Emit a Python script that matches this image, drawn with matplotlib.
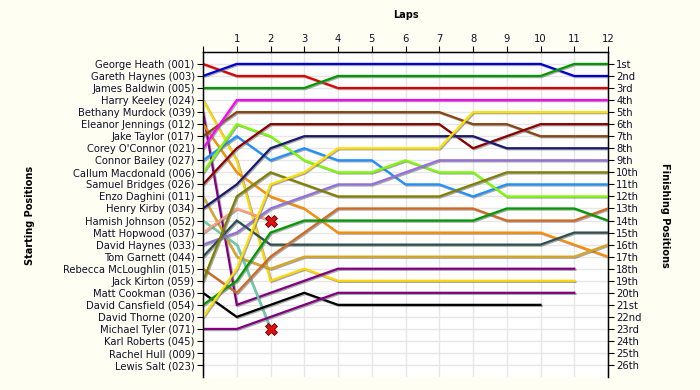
import matplotlib
matplotlib.use("Agg")
import matplotlib.pyplot as plt
import matplotlib.patheffects as pe

# starting grid order
names = ["George Heath (001)", "Gareth Haynes (003)", "James Baldwin (005)", "Harry Keeley (024)",
         "Bethany Murdock (039)", "Eleanor Jennings (012)", "Jake Taylor (017)", "Corey O'Connor (021)",
         "Connor Bailey (027)", "Callum Macdonald (006)", "Samuel Bridges (026)", "Enzo Daghini (011)",
         "Henry Kirby (034)", "Hamish Johnson (052)", "Matt Hopwood (037)", "David Haynes (033)",
         "Tom Garnett (044)", "Rebecca McLoughlin (015)", "Jack Kirton (059)", "Matt Cookman (036)",
         "David Cansfield (054)", "David Thorne (020)", "Michael Tyler (071)", "Karl Roberts (045)",
         "Rachel Hull (009)", "Lewis Salt (023)"]

colors = ["#E00000", "#0000D0", "#009A00", "#FFD700", "#800080", "#FF8C00", "#8B4513", "#FF00FF",
          "#1E90FF", "#7CFC00", "#8B0000", "#DAA520", "#191970", "#66CDAA", "#FFA07A", "#9370DB",
          "#2F4F4F", "#D2691E", "#808000", "#000000", "#009A00", "#FFE000", "#800080", None, None, None]

# position at lap 0..n (shorter list = lapped / retired)
positions = [
    [1, 2, 2, 2, 3, 3, 3, 3, 3, 3, 3, 3, 3],
    [2, 1, 1, 1, 1, 1, 1, 1, 1, 1, 1, 2, 2],
    [3, 3, 3, 3, 2, 2, 2, 2, 2, 2, 2, 1, 1],
    [4, 9, 19, 18, 19, 19, 19, 19, 19, 19, 19, 19],
    [5, 21, 20, 19, 18, 18, 18, 18, 18, 18, 18, 18],
    [6, 10, 12, 13, 15, 15, 15, 15, 15, 15, 15, 16, 17],
    [7, 5, 5, 5, 5, 5, 5, 5, 6, 6, 7, 7, 7],
    [8, 4, 4, 4, 4, 4, 4, 4, 4, 4, 4, 4, 4],
    [9, 7, 9, 8, 9, 9, 11, 11, 12, 11, 11, 11, 11],
    [10, 6, 7, 9, 10, 10, 9, 10, 10, 12, 12, 12, 12],
    [11, 8, 6, 6, 6, 6, 6, 6, 8, 7, 6, 6, 6],
    [12, 17, 18, 17, 17, 17, 17, 17, 17, 17, 17, 17, 16],
    [13, 11, 8, 7, 7, 7, 7, 7, 7, 8, 8, 8, 8],
    [14, 16, 23],
    [15, 13, 14],
    [16, 15, 13, 12, 11, 11, 10, 9, 9, 9, 9, 9, 9],
    [17, 14, 16, 16, 16, 16, 16, 16, 16, 16, 16, 15, 15],
    [18, 20, 17, 15, 13, 13, 13, 13, 13, 14, 14, 14, 13],
    [19, 12, 10, 11, 12, 12, 12, 12, 11, 10, 10, 10, 10],
    [20, 22, 21, 20, 21, 21, 21, 21, 21, 21, 21],
    [21, 19, 15, 14, 14, 14, 14, 14, 14, 13, 13, 13, 14],
    [22, 18, 11, 10, 8, 8, 8, 8, 5, 5, 5, 5, 5],
    [23, 23, 22, 21, 20, 20, 20, 20, 20, 20, 20, 20],
    [], [], [],
]
retired = [13, 14]  # drivers that retired (red X on last point)

finish_labels = ["1st", "2nd", "3rd", "4th", "5th", "6th", "7th", "8th", "9th", "10th", "11th", "12th",
                 "13th", "14th", "15th", "16th", "17th", "18th", "19th", "20th", "21st", "22nd", "23rd",
                 "24th", "25th", "26th"]
laps = list(range(0, 13))

txt = "#10102a"
fig = plt.figure(figsize=(7, 3.9), dpi=100, facecolor="#FEFEF3")
ax = fig.add_axes([0.29, 0.033, 0.5786, 0.834])
ax.set_facecolor("white")

shadow = [pe.SimpleLineShadow(offset=(0.8, -0.8), shadow_color="#707070", alpha=0.6), pe.Normal()]
for i, pos in enumerate(positions):
    if not pos:
        continue
    ax.plot(range(len(pos)), pos, color=colors[i], lw=1.6, solid_joinstyle="miter",
            path_effects=shadow, zorder=3)
    if i in retired:
        ax.plot(len(pos) - 1, pos[-1], marker="X", ms=8, color="#E01010", mec="#600000",
                mew=0.6, zorder=5)

ax.set_xlim(0, 12)
ax.set_ylim(27, 0)
ax.set_yticks(range(1, 27))
ax.set_yticklabels(names, fontsize=7.2, color=txt)
ax.set_xticks(laps)
ax.set_xticklabels([""] + [str(l) for l in laps[1:]], fontsize=7.2, color=txt)
ax.xaxis.tick_top()
ax.xaxis.set_label_position("top")
ax.tick_params(axis="both", direction="out", length=4, width=0.8, pad=2)
ax.grid(True, color="#E6E6E6", lw=1, zorder=0)
ax.spines["bottom"].set_visible(False)
for s in ("left", "top", "right"):
    ax.spines[s].set_linewidth(1)
ax.set_xlabel("Laps", fontsize=7, fontweight="bold", labelpad=11)

ax2 = ax.twinx()
ax2.set_ylim(27, 0)
ax2.set_yticks(range(1, 27))
ax2.set_yticklabels(finish_labels, fontsize=7.2, color=txt)
ax2.tick_params(axis="y", direction="out", length=4, width=0.8, pad=2)
ax2.spines["bottom"].set_visible(False)

fig.text(30 / 700, 1 - 215 / 390, "Starting Positions", fontsize=7, fontweight="bold",
         rotation=90, ha="center", va="center")
fig.text(665 / 700, 1 - 215 / 390, "Finishing Positions", fontsize=7, fontweight="bold",
         rotation=270, ha="center", va="center")

fig.savefig("out.png", dpi=100, facecolor=fig.get_facecolor())
